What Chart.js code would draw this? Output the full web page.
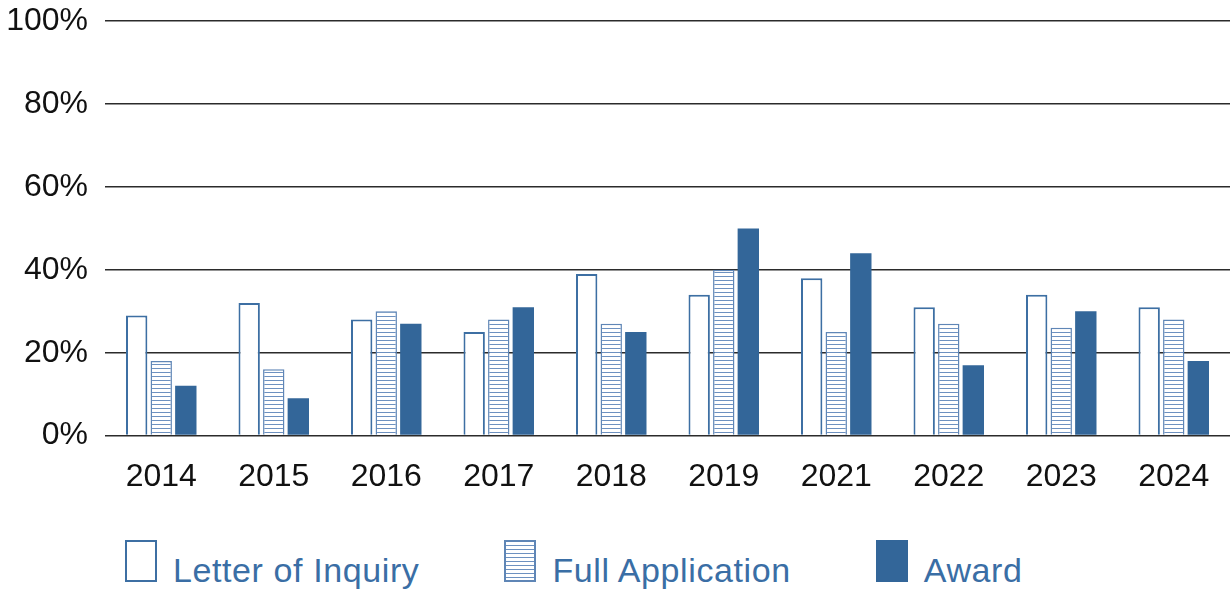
<!DOCTYPE html>
<html>
<head>
<meta charset="utf-8">
<script src="https://cdn.jsdelivr.net/npm/chart.js@4/dist/chart.umd.min.js"></script>
<style>
    body { margin: 0; background: #fff; }
    #wrap { position: relative; width: 1230px; height: 590px; overflow: hidden; }
    #chartBox { position: absolute; left: 0; top: -15px; width: 1230px; height: 525px; }
    #legend {
        position: absolute; left: 125px; top: 540px;
        display: flex; align-items: baseline;
        font-family: 'Liberation Sans', Arial, sans-serif;
        font-size: 34px; letter-spacing: 0.6px; color: #3a6ea5;
    }
    .item { display: flex; align-items: baseline; margin-right: 85px; }
    .swatch { box-sizing: border-box; width: 32px; height: 42px; margin-right: 16px; }
</style>
</head>
<body>
<div id="wrap">
    <div id="chartBox"><canvas id="myChart"></canvas></div>
    <div id="legend"></div>
</div>
<script>
const years = ['2014', '2015', '2016', '2017', '2018', '2019', '2021', '2022', '2023', '2024'];
const letterOfInquiry = [29, 32, 28, 25, 39, 34, 38, 31, 34, 31];
const fullApplication = [18, 16, 30, 28, 27, 40, 25, 27, 26, 28];
const award = [12, 9, 27, 31, 25, 50, 44, 17, 30, 18];
const yTicks = [0, 20, 40, 60, 80, 100];

const blue = '#336699';

// horizontal stripes for the Full Application bars
function stripes() {
    const c = document.createElement('canvas');
    c.width = 4;
    c.height = 4;
    const g = c.getContext('2d');
    g.fillStyle = '#ffffff';
    g.fillRect(0, 0, 4, 4);
    g.fillStyle = '#6d91c0';
    g.fillRect(0, 3, 4, 1);
    return g.createPattern(c, 'repeat');
}

const ctx = document.getElementById('myChart').getContext('2d');

const myChart = new Chart(ctx, {
    type: 'bar',
    data: {
        labels: years,
        datasets: [
            {
                label: 'Letter of Inquiry',
                data: letterOfInquiry,
                backgroundColor: '#ffffff',
                borderColor: '#3d6fa3',
                borderWidth: 2
            },
            {
                label: 'Full Application',
                data: fullApplication,
                backgroundColor: stripes(),
                borderColor: '#5f86b6',
                borderWidth: 1.5
            },
            {
                label: 'Award',
                data: award,
                backgroundColor: blue,
                borderWidth: 0
            }
        ]
    },
    options: {
        responsive: true,
        maintainAspectRatio: false,
        animation: false,
        layout: { padding: { left: 5, right: 0, top: 0, bottom: 0 } },
        datasets: {
            bar: { categoryPercentage: 0.655, barPercentage: 0.87 }
        },
        plugins: {
            legend: { display: false },
            tooltip: { enabled: false }
        },
        scales: {
            x: {
                grid: { display: false },
                border: { display: false },
                ticks: {
                    color: '#111',
                    padding: 14,
                    font: { family: "'Liberation Sans', Arial, sans-serif", size: 32 }
                }
            },
            y: {
                min: 0,
                max: 100,
                afterBuildTicks: axis => {
                    axis.ticks = yTicks.map(v => ({ value: v }));
                },
                afterFit: axis => {
                    axis.width = 100;
                },
                grid: {
                    color: '#2b2b2b',
                    lineWidth: 1.6,
                    drawTicks: false
                },
                border: { display: false },
                ticks: {
                    color: '#111',
                    padding: 17,
                    font: { family: "'Liberation Sans', Arial, sans-serif", size: 32 },
                    callback: v => v + '%'
                }
            }
        }
    }
});

// HTML legend
function buildLegend() {
    const legend = document.getElementById('legend');
    const styles = [
        'border: 2px solid #3d6fa3; background: #fff;',
        'border: 2px solid #5f86b6; background: repeating-linear-gradient(to bottom, #fff 0 3px, #6d91c0 3px 4px);',
        'background: ' + blue + ';'
    ];
    myChart.data.datasets.forEach((ds, i) => {
        const item = document.createElement('div');
        item.className = 'item';
        item.innerHTML = `<span class="swatch" style="${styles[i]}"></span><span>${ds.label}</span>`;
        legend.appendChild(item);
    });
}

buildLegend();
</script>
</body>
</html>
